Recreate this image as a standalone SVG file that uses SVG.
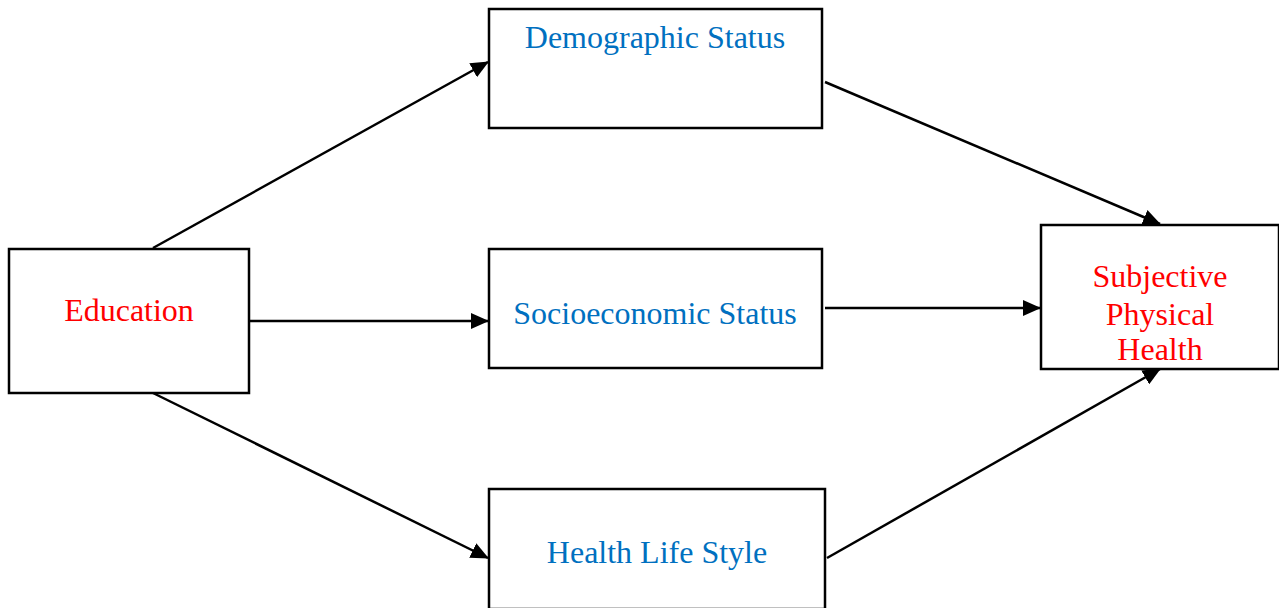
<svg xmlns="http://www.w3.org/2000/svg" width="1279" height="608" viewBox="0 0 1279 608">
<style>
.box{fill:#fff;stroke:#000;stroke-width:2.5}
.t{font-family:"Liberation Serif","Times New Roman",serif;font-size:32px;text-anchor:middle}
.b{fill:#0070C0}
.r{fill:#FF0000}
.c{stroke:#000;stroke-width:2.5;fill:none;marker-end:url(#ah)}
</style>
<defs>
<marker id="ah" markerUnits="userSpaceOnUse" markerWidth="18" markerHeight="16" refX="17" refY="8" orient="auto">
<path d="M0,0 L18,8 L0,16 Z" fill="#000"/>
</marker>
</defs>
<rect width="1279" height="608" fill="#fff"/>
<g id="connectors">
<line class="c" x1="153" y1="248" x2="488" y2="62"/>
<line class="c" x1="249" y1="321" x2="488" y2="321"/>
<line class="c" x1="153" y1="393" x2="488" y2="558"/>
<line class="c" x1="825" y1="82" x2="1160" y2="224"/>
<line class="c" x1="825" y1="308" x2="1040" y2="308"/>
<line class="c" x1="827" y1="558" x2="1160" y2="369"/>
</g>
<g id="education">
<rect class="box" x="9" y="249" width="240" height="144"/>
<text class="t r" x="129" y="321">Education</text>
</g>
<g id="demographic">
<rect class="box" x="489" y="9" width="333" height="119"/>
<text class="t b" x="655" y="48">Demographic Status</text>
</g>
<g id="socioeconomic">
<rect class="box" x="489" y="249" width="333" height="119"/>
<text class="t b" x="655" y="324">Socioeconomic Status</text>
</g>
<g id="lifestyle">
<rect class="box" x="489" y="489" width="336" height="120"/>
<text class="t b" x="657" y="563">Health Life Style</text>
</g>
<g id="subjective">
<rect class="box" x="1041" y="225" width="238" height="144"/>
<text class="t r" x="1160" y="287">Subjective</text>
<text class="t r" x="1160" y="325">Physical</text>
<text class="t r" x="1160" y="360">Health</text>
</g>
</svg>
